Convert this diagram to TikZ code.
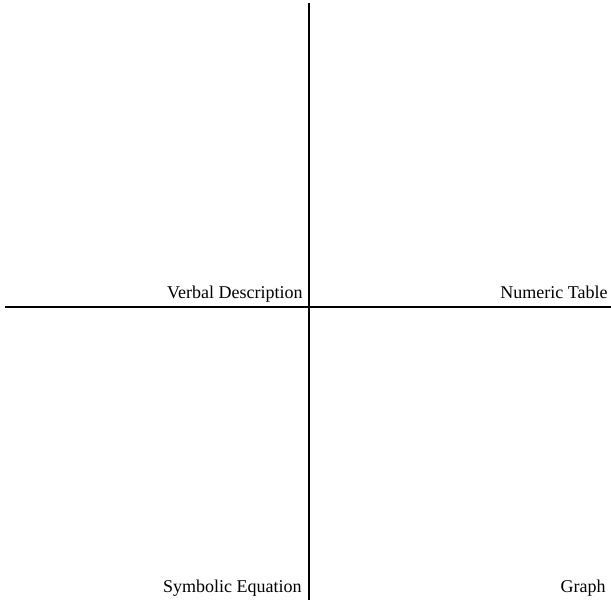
\documentclass[tikz,border=0pt]{standalone}
\usepackage{fontspec}
\setmainfont{Liberation Serif}

\begin{document}
\begin{tikzpicture}[x=0.5pt,y=0.5pt,font=\fontsize{9}{11}\selectfont]
  \useasboundingbox (0,0) rectangle (611,600);
  \coordinate (T) at (309,597); \coordinate (B) at (309,0);
  \coordinate (L) at (5,293); \coordinate (R) at (611,293);
  \draw[line width=1pt] (T)--(B);
  \draw[line width=1pt] (L)--(R);
  \foreach \n/\x/\y/\txt in {verb/303/301/Verbal Description,num/608/301/Numeric Table,
      sym/302/7/Symbolic Equation,graph/606/7/Graph}
    \node[anchor=base east,inner sep=0pt] (\n) at (\x,\y) {\txt};
\end{tikzpicture}
\end{document}
